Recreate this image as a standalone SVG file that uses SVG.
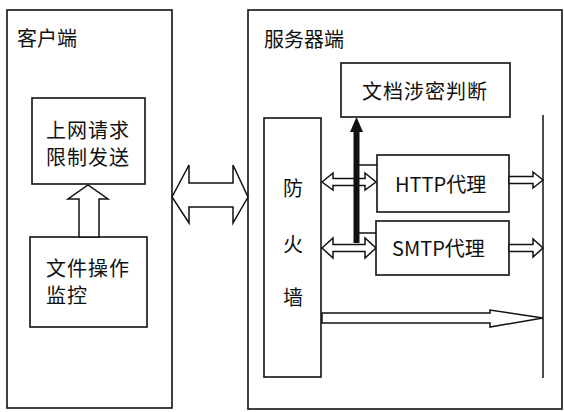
<svg xmlns="http://www.w3.org/2000/svg" width="564" height="412" viewBox="0 0 564 412">
<defs>
<style>
.box{fill:#fff;stroke:#111;stroke-width:1.6}
.ar{fill:#fff;stroke:#111;stroke-width:1.5;stroke-linejoin:miter}
.t{font-family:"Noto Sans CJK SC","Noto Sans",sans-serif;font-size:20px;fill:#111}
.ln{stroke:#111;stroke-width:1.5;fill:none}
</style>
</defs>
<rect width="564" height="412" fill="#fff"/>
<g id="client">
<rect class="box" x="7" y="10" width="165" height="398"/>
<text class="t" x="17" y="46">客户端</text>
</g>
<g id="server">
<rect class="box" x="248" y="10" width="314" height="399"/>
<text class="t" x="264" y="47">服务器端</text>
</g>
<g id="request-limit">
<rect class="box" x="32" y="98" width="113" height="86"/>
<text class="t" x="46" y="138" letter-spacing="1">上网请求</text>
<text class="t" x="46" y="165" letter-spacing="1">限制发送</text>
</g>
<g id="file-monitor">
<rect class="box" x="30" y="237" width="117" height="90"/>
<text class="t" x="46" y="276" letter-spacing="1">文件操作</text>
<text class="t" x="46" y="303" letter-spacing="1">监控</text>
</g>
<g id="doc-secret">
<rect class="box" x="341" y="63" width="169" height="54"/>
<text class="t" x="362" y="99" letter-spacing="1">文档涉密判断</text>
</g>
<g id="firewall">
<rect class="box" x="264" y="118" width="57" height="259"/>
<text class="t" x="283" y="196">防</text>
<text class="t" x="283" y="252">火</text>
<text class="t" x="283" y="305">墙</text>
</g>
<g id="http-proxy">
<rect class="box" x="377" y="155" width="132" height="57"/>
<text class="t" x="395" y="192">HTTP代理</text>
</g>
<g id="smtp-proxy">
<rect class="box" x="376" y="221" width="133" height="54"/>
<text class="t" x="392" y="256">SMTP代理</text>
</g>
<g id="connectors">
<line class="ln" x1="543" y1="115" x2="543" y2="378"/>
<polygon class="ar" points="79,237 79,199 68,199 88,185 108,199 99,199 99,237"/>
<polygon class="ar" points="172,197 189,165 189,183 233,183 233,165 248,197 233,223 233,207 189,207 189,223"/>
<polygon class="ar" points="322,182 333,173 333,178.5 365,178.5 365,173 376,182 365,190 365,185.5 333,185.5 333,190"/>
<polygon class="ar" points="322,248 333,238 333,244.5 365,244.5 365,238 376,248 365,258 365,251.5 333,251.5 333,258"/>
<polygon class="ar" points="509,176.5 533,176.5 533,172 543,180 533,188 533,183.5 509,183.5"/>
<polygon class="ar" points="509,244.5 533,244.5 533,239 543,248 533,257 533,251.5 509,251.5"/>
<polygon class="ar" points="322,313 490,313 490,310 543,318 490,327 490,323 322,323"/>
<line class="ln" x1="359" y1="165" x2="377" y2="165"/>
<line class="ln" x1="359" y1="233" x2="376" y2="233"/>
<rect x="353.5" y="130" width="6" height="113" fill="#111"/>
<polygon points="350,132 356.5,117 363,132" fill="#111"/>
</g>
</svg>
